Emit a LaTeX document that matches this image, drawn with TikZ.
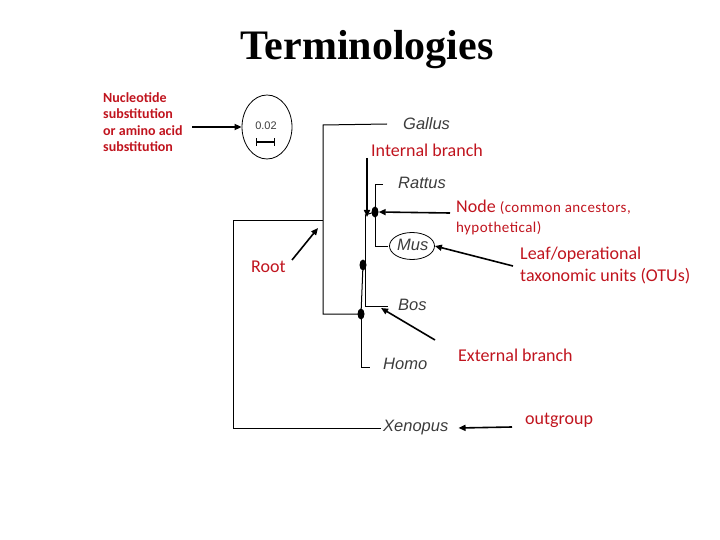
\documentclass[tikz,border=0pt]{standalone}
\usepackage{fontspec}
\setmainfont{Liberation Serif}
\newfontfamily\lblfont{Carlito}
\newfontfamily\spfont{Liberation Sans}
\usetikzlibrary{arrows.meta,shapes.geometric}
\definecolor{lblred}{RGB}{192,20,30}
\definecolor{spgray}{RGB}{60,60,60}
\tikzset{
  x=1pt, y=-1pt,
  tree/.style={line width=1pt, black},
  species/.style={anchor=west, inner sep=0pt, font=\spfont\itshape\fontsize{16.5}{16}\selectfont, text=spgray},
  redlbl/.style={anchor=west, inner sep=0pt, text=lblred, font=\lblfont\fontsize{18}{18}\selectfont},
  pointer/.style={line width=1.6pt, -{Triangle[length=7pt,width=6pt]}},
  ancestor/.style={fill=black, ellipse, minimum width=7pt, minimum height=11pt, inner sep=0pt},
}
\begin{document}
\begin{tikzpicture}
\useasboundingbox (0,0) rectangle (720,540);
% title
\node[inner sep=0pt, font=\bfseries\fontsize{42}{42}\selectfont] (title) at (367,50) {Terminologies};
% scale bar
\node[draw, ellipse, line width=0.8pt, minimum width=50pt, minimum height=64pt, inner sep=0pt] (scale) at (267,127) {};
\node[inner sep=0pt, font=\spfont\fontsize{11}{11}\selectfont, text=spgray] (sclbl) at (266,126) {0.02};
\coordinate (sbL) at (256,142);
\coordinate (sbR) at (274,142);
\draw[line width=1.2pt] (sbL) -- (sbR);
\draw[line width=1pt] ([yshift=-4pt]sbL) -- ([yshift=4pt]sbL);
\draw[line width=1pt] ([yshift=-4pt]sbR) -- ([yshift=4pt]sbR);
\node[anchor=north west, inner sep=0pt, text=lblred, align=left, font=\lblfont\bfseries\fontsize{14}{16.5}\selectfont] (nuc) at (103,92) {Nucleotide\\substitution\\or amino acid\\substitution};
\coordinate (nucarrow) at (192,127);
\draw[pointer] (nucarrow) -- (scale.west);
% species
\node[species] (gallus) at (403,124) {Gallus};
\node[species] (rattus) at (398,183) {Rattus};
\node[species] (mus) at (397,245) {Mus};
\node[draw, ellipse, line width=0.8pt, minimum width=45pt, minimum height=27pt, inner sep=0pt] (musring) at (412,246) {};
\node[species] (bos) at (398,305) {Bos};
\node[species] (homo) at (383,364) {Homo};
\node[species] (xenopus) at (383,428) {Xenopus};
% internal nodes
\node[ancestor] (nC) at (375,212) {};
\node[ancestor] (nB) at (363,265) {};
\node[ancestor] (nA) at (361,314) {};
% tree
\coordinate (r1) at (233,221);
\coordinate (r2) at (233,428);
\coordinate (i1) at (323,221);
\coordinate (i2) at (323,125);
\coordinate (i3) at (323,314);
\draw[tree] ([xshift=-2pt]xenopus.west) -- (r2) -- (r1) -- (i1);
\draw[tree] (gallus.west) ++(-16,0) -- (i2) -- (i3) -- (nA.center);
\draw[tree] (nA.center) -- (361,367) -- (370,367);
\draw[tree] (nA.center) -- (nB.center);
\draw[tree] (365,215) -- (365,306) -- (388,306);
\draw[tree] (365,215) -- (nC.center);
\draw[tree] (383,185) -- (375,185) -- (375,246) -- (388,246);
% labels with pointers
\node[redlbl] (internal) at (371,150) {Internal branch};
\coordinate (intEnd) at (367,217);
\draw[pointer] (367,158) -- (intEnd);
\node[redlbl] (nodelbl) at (456,207) {Node {\fontsize{15}{15}\selectfont\addfontfeature{LetterSpace=3}(common ancestors,}};
\node[redlbl, font=\lblfont\fontsize{15}{15}\selectfont\addfontfeature{LetterSpace=3}] (hypo) at (456,228) {hypothetical)};
\draw[pointer] (450,213) -- (nC.east);
\node[redlbl, align=left, anchor=north west, font=\lblfont\fontsize{18}{22}\selectfont] (leaf) at (520,247) {Leaf/operational\\taxonomic units (OTUs)};
\coordinate (leafS) at (513,266);
\draw[pointer] (leafS) -- (musring.east);
\node[redlbl] (root) at (251,267) {Root};
\coordinate (rootS) at (292,260);
\coordinate (rootE) at (318,228);
\draw[pointer] (rootS) -- (rootE);
\node[redlbl] (ext) at (458,355) {External branch};
\coordinate (extS) at (435,340);
\coordinate (extE) at (381,308);
\draw[pointer] (extS) -- (extE);
\node[redlbl] (outg) at (525,420) {outgroup};
\coordinate (outS) at (512,427);
\draw[pointer] (outS) -- ([xshift=10pt]xenopus.east);
\end{tikzpicture}
\end{document}
